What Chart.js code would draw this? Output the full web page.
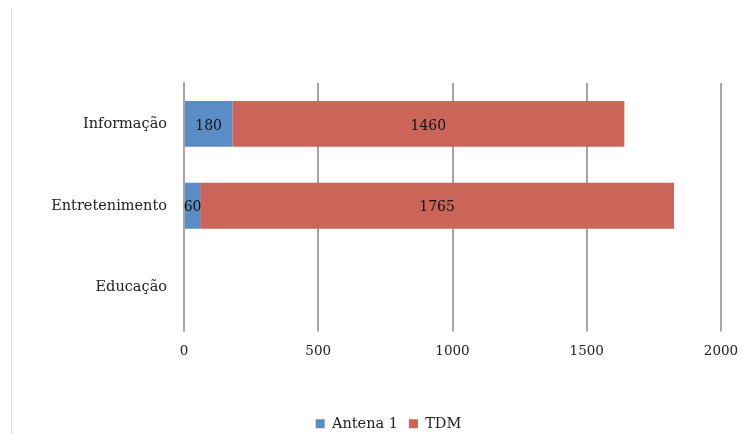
<!DOCTYPE html>
<html>
<head>
<meta charset="utf-8">
<script src="https://cdn.jsdelivr.net/npm/chart.js@4/dist/chart.umd.min.js"></script>
<style>
  html, body { margin: 0; padding: 0; background: #fff; }
  #wrap { position: relative; width: 743px; height: 434px; }
  #edge { position: absolute; left: 11px; top: 8px; width: 1px; height: 426px; background: #d9d9d9; }
  canvas { position: absolute; left: 0; top: 0; }
</style>
</head>
<body>
<div id="wrap">
  <div id="edge"></div>
  <canvas id="c" width="743" height="434"></canvas>
</div>
<script>
const categories = ['Informação', 'Entretenimento', 'Educação'];
const antena1 = [180, 60, null];
const tdm = [1460, 1765, null];
const seriesNames = ['Antena 1', 'TDM'];
const xTicks = [0, 500, 1000, 1500, 2000];

const FONT = 'DejaVu Serif';
const GRID = '#a6a6a6';
const LEGEND_OFFSET = 28;

// Writes each segment's value in the middle of its bar
const segmentLabels = {
  id: 'segmentLabels',
  afterDatasetsDraw(chart) {
    const ctx = chart.ctx;
    ctx.save();
    ctx.font = '14px "' + FONT + '"';
    ctx.fillStyle = '#111';
    ctx.textAlign = 'center';
    ctx.textBaseline = 'middle';
    chart.data.datasets.forEach((ds, i) => {
      const meta = chart.getDatasetMeta(i);
      meta.data.forEach((bar, j) => {
        const v = ds.data[j];
        if (v === null || v === undefined) return;
        const left = Math.min(bar.x, bar.base);
        const right = Math.max(bar.x, bar.base);
        ctx.fillText(String(v), (left + right) / 2, bar.y + 2);
      });
    });
    ctx.restore();
  }
};

// Nudges the legend to the right so it sits under the plot area
const legendUnderPlot = {
  id: 'legendUnderPlot',
  afterLayout(chart) {
    const lg = chart.legend;
    if (!lg) return;
    lg.left += LEGEND_OFFSET;
    lg.right += LEGEND_OFFSET;
  }
};

new Chart(document.getElementById('c'), {
  type: 'bar',
  data: {
    labels: categories,
    datasets: [
      { label: seriesNames[0], data: antena1, backgroundColor: '#5a8dc6', borderWidth: 0, categoryPercentage: 1, barPercentage: 0.56 },
      { label: seriesNames[1], data: tdm, backgroundColor: '#cb655a', borderWidth: 0, categoryPercentage: 1, barPercentage: 0.56 }
    ]
  },
  options: {
    indexAxis: 'y',
    responsive: false,
    animation: false,
    devicePixelRatio: 1,
    layout: { padding: { top: 83, right: 22, left: 0, bottom: -7 } },
    scales: {
      x: {
        stacked: true,
        min: 0,
        max: 2000,
        afterBuildTicks(scale) { scale.ticks = xTicks.map(v => ({ value: v })); },
        afterFit(scale) {
          scale.height = 77;
          scale.paddingLeft = 0;
          scale.paddingRight = 0;
        },
        grid: { color: GRID, lineWidth: 2, drawTicks: true, tickLength: 3, tickColor: GRID },
        border: { display: false },
        ticks: {
          color: '#222', font: { family: FONT, size: 13.5 }, padding: 12, maxRotation: 0,
          callback: (v) => String(v)
        }
      },
      y: {
        stacked: true,
        afterFit(scale) { scale.width = 184; },
        grid: { display: false },
        border: { display: true, color: GRID, width: 2 },
        ticks: { color: '#222', font: { family: FONT, size: 14.5 }, padding: 9 }
      }
    },
    plugins: {
      legend: {
        position: 'bottom',
        labels: {
          boxWidth: 9, boxHeight: 9, padding: 11, color: '#222',
          font: { family: FONT, size: 14.5 }
        }
      },
      tooltip: { enabled: false }
    }
  },
  plugins: [segmentLabels, legendUnderPlot]
});
</script>
</body>
</html>
